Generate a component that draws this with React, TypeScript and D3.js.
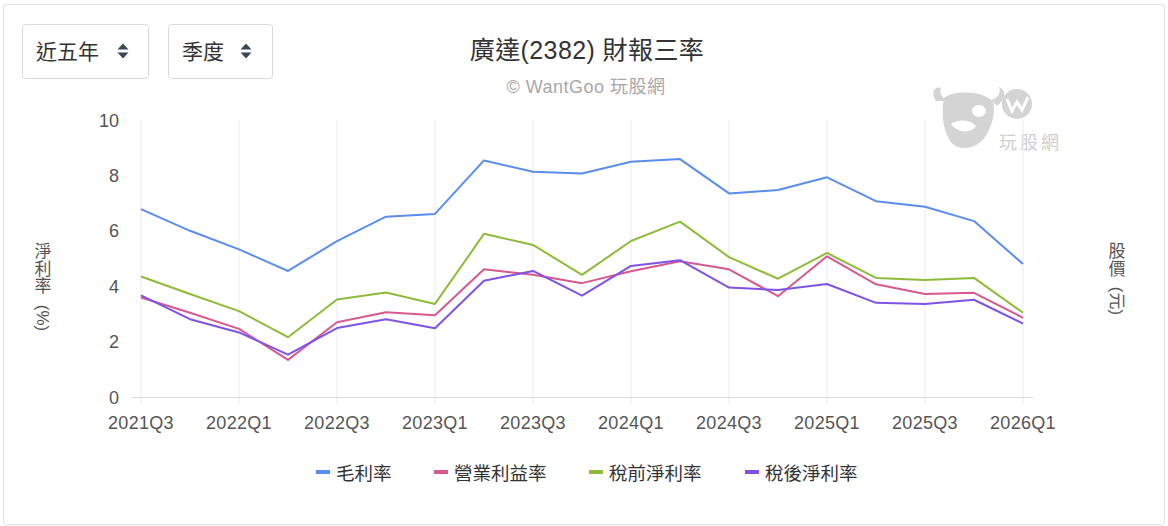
import React from "react";
import * as d3 from "d3";

const quarters = [
  "2021Q3", "2021Q4", "2022Q1", "2022Q2", "2022Q3", "2022Q4", "2023Q1", "2023Q2",
  "2023Q3", "2023Q4", "2024Q1", "2024Q2", "2024Q3", "2024Q4", "2025Q1", "2025Q2",
  "2025Q3", "2025Q4", "2026Q1",
];
const grossMargin = [6.78, 6.0, 5.33, 4.55, 5.63, 6.51, 6.61, 8.54, 8.13, 8.07, 8.49, 8.59, 7.35, 7.47, 7.93, 7.07, 6.87, 6.35, 4.8];
const operatingMargin = [3.59, 3.04, 2.46, 1.34, 2.7, 3.06, 2.95, 4.61, 4.41, 4.11, 4.54, 4.9, 4.61, 3.64, 5.08, 4.07, 3.72, 3.76, 2.86];
const preTaxMargin = [4.35, 3.72, 3.1, 2.16, 3.52, 3.77, 3.36, 5.89, 5.49, 4.41, 5.63, 6.33, 5.05, 4.27, 5.2, 4.3, 4.22, 4.3, 3.04];
const netMargin = [3.67, 2.81, 2.33, 1.53, 2.49, 2.81, 2.48, 4.2, 4.55, 3.66, 4.73, 4.94, 3.95, 3.86, 4.08, 3.4, 3.36, 3.51, 2.65];
const seriesNames = ["毛利率", "營業利益率", "稅前淨利率", "稅後淨利率"];
const seriesColors = ["#5b8def", "#d6598f", "#8fbb3b", "#7f52e8"];
const yTicks = [0, 2, 4, 6, 8, 10];
const xTickLabels = quarters.filter((_, i) => i % 2 === 0);

const FONT = "'Liberation Sans', Helvetica, Arial, 'Noto Sans CJK TC', sans-serif";

export default function App() {
  const W = 1168, H = 526;
  const x = d3.scalePoint<string>().domain(quarters).range([141, 1023]);
  const y = d3.scaleLinear().domain([0, 10]).range([397, 120]);
  const allSeries = [grossMargin, operatingMargin, preTaxMargin, netMargin];
  const line = d3
    .line<number>()
    .x((_, i) => x(quarters[i]) as number)
    .y((d) => y(d));

  const legendX = [316, 434, 589, 745];

  const arrow = (cx: number, cy: number) => (
    <g fill="#3b4758">
      <path d={`M${cx - 5.5},${cy - 1.5} L${cx + 5.5},${cy - 1.5} L${cx},${cy - 7.5} Z`} />
      <path d={`M${cx - 5.5},${cy + 1.5} L${cx + 5.5},${cy + 1.5} L${cx},${cy + 7.5} Z`} />
    </g>
  );

  return (
    <svg
      width={W}
      height={H}
      style={{ position: "absolute", left: 0, top: 0, fontFamily: FONT }}
    >
      <rect x={0} y={0} width={W} height={H} fill="#fff" />
      <rect x={3.5} y={4.5} width={1161} height={520} fill="#fff" stroke="#e2e2e2" strokeWidth={1} rx={2} />

      {/* dropdowns */}
      <rect x={22.5} y={24.5} width={126} height={54} rx={3} fill="#fff" stroke="#dadada" />
      <text x={36} y={59} fontSize={21} fill="#333">近五年</text>
      {arrow(123, 51)}
      <rect x={168.5} y={24.5} width={104} height={54} rx={3} fill="#fff" stroke="#dadada" />
      <text x={182} y={59} fontSize={21} fill="#333">季度</text>
      {arrow(246, 51)}

      {/* title */}
      <text x={587} y={59} fontSize={25} fill="#333" textAnchor="middle" letterSpacing={0.4}>廣達(2382) 財報三率</text>
      <text x={586} y={93} fontSize={18} fill="#a8a8a8" textAnchor="middle" letterSpacing={0.5}>© WantGoo 玩股網</text>

      {/* watermark */}
      <g fill="#d4d4d4">
        <path d="M936,101 C930,92 935,86 941,88 C939,94 942,99 950,101 Z" />
        <path d="M991,100 C999,98 1001,92 999,87 C1006,90 1007,98 997,106 Z" />
        <path d="M944,98 C952,90 984,90 993,102 C996,112 992,126 985,137 C978,148 962,151 954,145 C946,139 940,120 944,98 Z" />
        <circle cx={1017} cy={104} r={15} />
        <text x={999} y={149} fontSize={18} fill="#cfcfcf" letterSpacing={3}>玩股網</text>
      </g>
      <g fill="#fff">
        <ellipse cx={979} cy={111} rx={7} ry={6} />
        <path d="M951,124 C958,119 970,119 976,126 C972,133 958,134 951,124 Z" />
        <path d="M1007,99 L1012,111 L1017,102 L1022,110 L1028,97" fill="none" stroke="#fff" strokeWidth={3} />
      </g>

      {/* grid & axis */}
      {xTickLabels.map((q) => (
        <line key={q} x1={x(q)} x2={x(q)} y1={120} y2={404} stroke="#ebebeb" strokeWidth={1} />
      ))}
      <line x1={132} x2={1033} y1={397.5} y2={397.5} stroke="#dcdcdc" strokeWidth={1} />
      {xTickLabels.map((q) => (
        <text key={q} x={x(q)} y={429} fontSize={18} fill="#555" textAnchor="middle" letterSpacing={0.3}>{q}</text>
      ))}
      {yTicks.map((t) => (
        <text key={t} x={119} y={y(t) + 6.5} fontSize={18} fill="#555" textAnchor="end">{t}</text>
      ))}

      {/* axis titles */}
      <g fontSize={17} fill="#555" textAnchor="middle">
        <text x={43} y={257}>淨</text>
        <text x={43} y={274.5}>利</text>
        <text x={43} y={292}>率</text>
        <text transform="translate(37,318) rotate(90)">(%)</text>
        <text x={1117} y={257}>股</text>
        <text x={1117} y={275}>價</text>
        <text transform="translate(1111,301) rotate(90)">(元)</text>
      </g>

      {/* lines */}
      {allSeries.map((s, i) => (
        <path key={i} d={line(s) || ""} fill="none" stroke={seriesColors[i]} strokeWidth={2} strokeLinejoin="round" />
      ))}

      {/* legend */}
      {seriesNames.map((n, i) => (
        <g key={n}>
          <rect x={legendX[i]} y={470} width={14} height={4} fill={seriesColors[i]} />
          <text x={legendX[i] + 20} y={479.5} fontSize={18.5} fill="#333">{n}</text>
        </g>
      ))}
    </svg>
  );
}
